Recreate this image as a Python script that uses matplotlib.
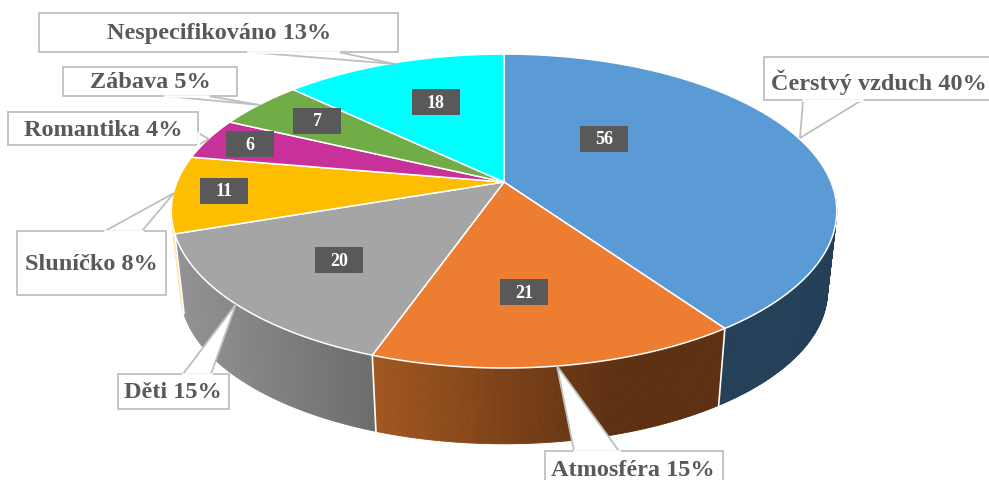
import numpy as np
import matplotlib
matplotlib.use('Agg')
import matplotlib.pyplot as plt
from matplotlib.patches import Polygon, Rectangle
from matplotlib.collections import PolyCollection
from matplotlib.colors import to_rgb

plt.rcParams['font.family'] = ['Liberation Serif', 'DejaVu Serif']

# data
categories = ['Čerstvý vzduch', 'Atmosféra', 'Děti', 'Sluníčko', 'Romantika', 'Zábava', 'Nespecifikováno']
values = [56, 21, 20, 11, 6, 7, 18]
percents = [40, 15, 15, 8, 4, 5, 13]
colors = ['#5b9bd5', '#ed7d31', '#a5a5a5', '#fdbd00', '#c8309a', '#70ad47', '#00ffff']
wall_left = ['#243f58', '#a2571f', '#929292', '#fde9a8', '#c8309a', '#70ad47', '#00ffff']
wall_right = ['#243f58', '#5d3012', '#6c6c6c', '#fde9a8', '#c8309a', '#70ad47', '#00ffff']
wall_x0 = [700, 376, 183, 170, 170, 170, 170]
wall_x1 = [840, 615, 376, 190, 190, 190, 190]

# value label centres
value_pos = [(604, 139), (524, 292), (339, 260), (224, 191), (250, 144), (317, 121), (436, 102)]

# callout box x0, y0, x1, y1, pointer (start, tip, end), text centre
callouts = [
    (764, 57, 995, 100, [(862, 100), (800, 138), (803, 100)], (879, 82)),
    (545, 451, 723, 490, [(574, 451), (557, 366), (619, 451)], (633, 471)),
    (118, 374, 229, 409, [(183, 374), (236, 304), (211, 374)], (173, 393)),
    (17, 231, 166, 295, [(105, 231), (174, 193), (142, 231)], (91, 265)),
    (8, 112, 198, 145, [(198, 133), (209, 139), (198, 145)], (103, 130)),
    (63, 67, 237, 96, [(165, 96), (260, 105), (208, 96)], (150, 83)),
    (39, 13, 398, 52, [(248, 52), (395, 64), (338, 52)], (219, 34)),
]

cx = 504
rx = 327
ry = 151.6
k = 0.185
top_y = 182
bot_y = 263
bot_scale = 0.972


def project(theta, cy, scale=1.0):
    # theta clockwise from top, far side of the disc is drawn smaller
    s = np.sin(theta)
    c = np.cos(theta)
    w = 1 + k * c
    return cx + scale * rx * s / w, cy - scale * ry * c / w


fig = plt.figure(figsize=(9.89, 4.8), dpi=100)
ax = fig.add_axes([0, 0, 1, 1])
ax.set_xlim(0, 989)
ax.set_ylim(480, 0)
ax.axis('off')

edges = np.cumsum([0] + values) / sum(values) * 2 * np.pi

# side wall, only the part that can be seen
for i in [3, 2, 0, 1]:
    a0 = max(edges[i], np.radians(92))
    a1 = min(edges[i + 1], np.radians(266))
    th = np.linspace(a0, a1, 120)
    xt, yt = project(th, top_y)
    xb, yb = project(th, bot_y, bot_scale)
    quads = []
    cols = []
    c0 = np.array(to_rgb(wall_left[i]))
    c1 = np.array(to_rgb(wall_right[i]))
    for j in range(len(th) - 1):
        quads.append([(xt[j], yt[j]), (xt[j + 1], yt[j + 1]), (xb[j + 1], yb[j + 1]), (xb[j], yb[j])])
        t = np.clip(((xt[j] + xb[j]) / 2 - wall_x0[i]) / (wall_x1[i] - wall_x0[i]), 0, 1)
        cols.append(c0 + (c1 - c0) * t)
    ax.add_collection(PolyCollection(quads, facecolors=cols, edgecolors=cols, linewidths=0.6, zorder=1))

# white seams between the walls
for a in [edges[1], edges[2], edges[3]]:
    x0, y0 = project(a, top_y)
    x1, y1 = project(a, bot_y, bot_scale)
    ax.plot([x0, x1], [y0, y1], color='white', lw=1.2, zorder=2)

# top face
for i in range(len(values)):
    th = np.linspace(edges[i], edges[i + 1], 200)
    x, y = project(th, top_y)
    pts = np.column_stack([np.r_[cx, x], np.r_[top_y, y]])
    ax.add_patch(Polygon(pts, closed=True, facecolor=colors[i], edgecolor='white', lw=1.1, zorder=3))

# value labels
for v, (x, y) in zip(values, value_pos):
    ax.add_patch(Rectangle((x - 24, y - 13), 48, 26, facecolor='#595959', edgecolor='none', zorder=4))
    ax.text(x, y + 1, str(v), color='white', fontsize=13, fontweight='bold', ha='center', va='center', zorder=5)

# callouts
for name, p, (x0, y0, x1, y1, tip, tc) in zip(categories, percents, callouts):
    ax.add_patch(Polygon(tip, closed=True, facecolor='white', edgecolor='#bfbfbf', lw=1.3, zorder=6))
    ax.add_patch(Rectangle((x0, y0), x1 - x0, y1 - y0, facecolor='white', edgecolor='#bfbfbf', lw=1.3, zorder=6))
    ax.plot([tip[0][0], tip[2][0]], [tip[0][1], tip[2][1]], color='white', lw=1.8, zorder=7)
    ax.text(tc[0], tc[1], '{} {}%'.format(name, p), color='#595959', fontsize=17.5, fontweight='bold',
            ha='center', va='center', zorder=8)

fig.savefig('out.png', dpi=100)
